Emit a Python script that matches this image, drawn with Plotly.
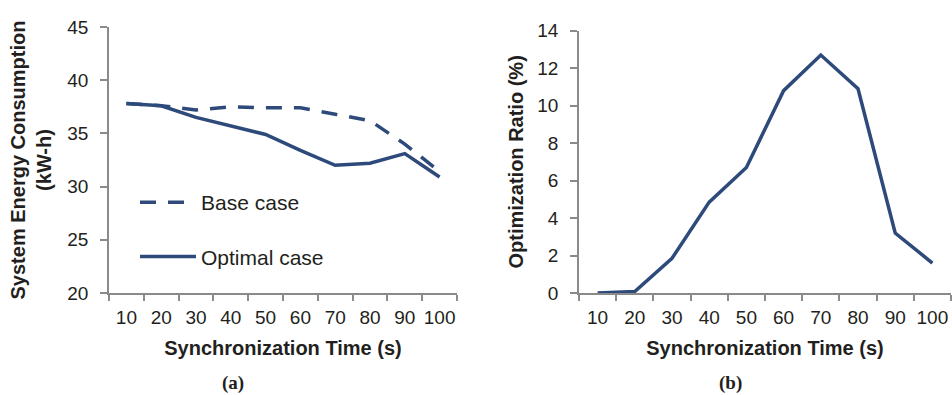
import plotly.graph_objects as go

# ---- data ----
sync_time = ["10", "20", "30", "40", "50", "60", "70", "80", "90", "100"]
base_case = [37.8, 37.6, 37.2, 37.5, 37.4, 37.4, 36.8, 36.2, 34.0, 31.4]
optimal_case = [37.8, 37.6, 36.5, 35.7, 34.9, 33.4, 32.0, 32.2, 33.1, 30.9]
opt_ratio = [0.0, 0.08, 1.85, 4.85, 6.7, 10.8, 12.7, 10.9, 3.2, 1.6]

W, H = 952, 395
LINE = "#2E4A7B"
AX = "#8A8A8A"
TXT = "#231F20"
FONT = "Liberation Sans, Arial, sans-serif"

fig = go.Figure()
fig.add_trace(go.Scatter(x=sync_time, y=base_case, mode="lines", name="Base case",
                         line=dict(color=LINE, width=3.5, dash="16px,12px"),
                         xaxis="x", yaxis="y", legendgroup="a"))
fig.add_trace(go.Scatter(x=sync_time, y=optimal_case, mode="lines", name="Optimal case",
                         line=dict(color=LINE, width=3.5),
                         xaxis="x", yaxis="y", legendgroup="b"))
fig.add_trace(go.Scatter(x=sync_time, y=opt_ratio, mode="lines", showlegend=False,
                         line=dict(color=LINE, width=3.5),
                         xaxis="x2", yaxis="y2"))

def px_x(p):
    return p / W

def px_y(p):
    return (H - p) / H

common_x = dict(type="category", tickson="boundaries", range=[-0.5, len(sync_time) - 0.5],
                tickangle=0, showline=True, linecolor=AX,
                linewidth=1.5, ticks="outside", ticklen=6, tickcolor=AX, tickwidth=1.5,
                showgrid=False, zeroline=False, ticklabelstandoff=6, automargin=False,
                tickfont=dict(family=FONT, size=19, color=TXT),
                title=dict(text="<b>Synchronization Time (s)</b>", standoff=14,
                           font=dict(family=FONT, size=20, color=TXT)))
common_y = dict(showline=True, linecolor=AX, linewidth=1.5, ticks="outside", ticklen=7,
                tickcolor=AX, tickwidth=1.5, showgrid=False, zeroline=False,
                ticklabelstandoff=8, automargin=False,
                tickfont=dict(family=FONT, size=19, color=TXT))

fig.update_layout(
    template="none",
    width=W, height=H,
    margin=dict(l=0, r=0, t=0, b=0, autoexpand=False),
    paper_bgcolor="white", plot_bgcolor="white",
    xaxis=dict(domain=[px_x(109), px_x(457)], anchor="y", **common_x),
    yaxis=dict(domain=[px_y(293), px_y(27)], anchor="x", range=[20, 45], dtick=5,
               title=dict(text="<b>System Energy Consumption<br>(kW-h)</b>", standoff=10,
                          font=dict(family=FONT, size=20, color=TXT)),
               **common_y),
    xaxis2=dict(domain=[px_x(579), px_x(951)], anchor="y2", **common_x),
    yaxis2=dict(domain=[px_y(293), px_y(30.7)], anchor="x2", range=[0, 14], dtick=2,
                title=dict(text="<b>Optimization Ratio (%)</b>", standoff=8,
                           font=dict(family=FONT, size=20, color=TXT)),
                **common_y),
    legend=dict(x=px_x(135), y=px_y(182), xanchor="left", yanchor="top",
                bgcolor="rgba(0,0,0,0)", itemwidth=56, tracegroupgap=24,
                font=dict(family=FONT, size=21, color=TXT)),
    annotations=[
        dict(text="<b>(a)</b>", x=px_x(233), y=px_y(383), xref="paper", yref="paper",
             xanchor="center", yanchor="middle", showarrow=False,
             font=dict(family="Liberation Serif, Times New Roman, serif", size=19, color=TXT)),
        dict(text="<b>(b)</b>", x=px_x(730), y=px_y(383), xref="paper", yref="paper",
             xanchor="center", yanchor="middle", showarrow=False,
             font=dict(family="Liberation Serif, Times New Roman, serif", size=19, color=TXT)),
    ],
)

fig.write_html("out.html")
